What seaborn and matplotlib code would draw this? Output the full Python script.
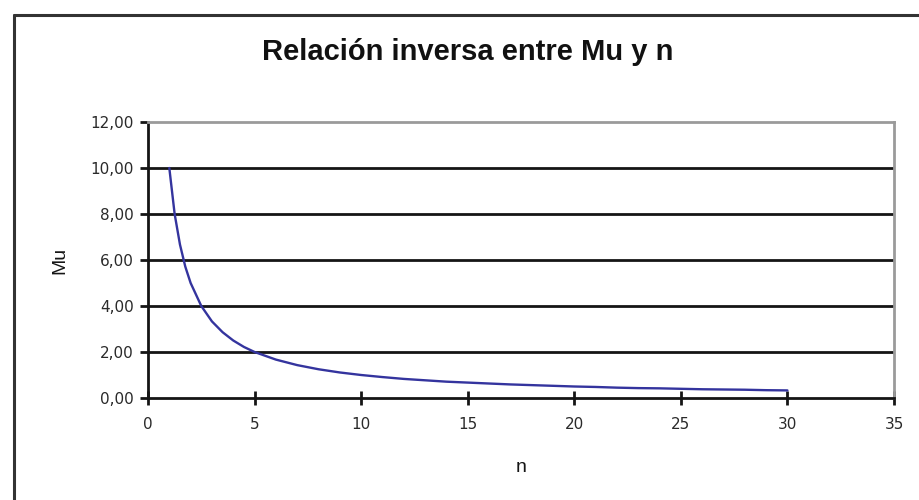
import matplotlib
matplotlib.use("Agg")
import matplotlib.pyplot as plt
from matplotlib.lines import Line2D
from matplotlib.ticker import FuncFormatter
import seaborn as sns
import pandas as pd

# n values and the corresponding Mu readings
n_vals = [1, 1.25, 1.5, 1.75, 2, 2.5, 3, 3.5, 4, 4.5, 5, 6, 7, 8, 9, 10,
          11, 12, 13, 14, 15, 16, 17, 18, 19, 20, 21, 22, 23, 24, 25,
          26, 27, 28, 29, 30]
mu_vals = [10.00, 8.00, 6.67, 5.71, 5.00, 4.00, 3.33, 2.86, 2.50, 2.22, 2.00,
           1.67, 1.43, 1.25, 1.11, 1.00, 0.91, 0.83, 0.77, 0.71, 0.67, 0.63,
           0.59, 0.56, 0.53, 0.50, 0.48, 0.45, 0.43, 0.42, 0.40, 0.38, 0.37,
           0.36, 0.34, 0.33]
x_ticks = [0, 5, 10, 15, 20, 25, 30, 35]
y_ticks = [0, 2, 4, 6, 8, 10, 12]

df = pd.DataFrame({"n": n_vals, "Mu": mu_vals})

sns.set_theme(style="white")
plt.rcParams["font.family"] = ["Liberation Sans", "DejaVu Sans"]

fig = plt.figure(figsize=(9.19, 5.0), dpi=100)
fig.patch.set_facecolor("white")
ax = fig.add_axes([148 / 919, 1 - 398 / 500, (894 - 148) / 919, (398 - 122) / 500])

sns.lineplot(data=df, x="n", y="Mu", ax=ax, color="#34349e", linewidth=1.7)

ax.set_xlim(0, 35)
ax.set_ylim(0, 12)
ax.set_xticks(x_ticks)
ax.set_yticks(y_ticks)
ax.yaxis.set_major_formatter(FuncFormatter(lambda v, p: f"{v:.2f}".replace(".", ",")))

# horizontal gridlines
for y in y_ticks[1:-1]:
    ax.axhline(y, color="#151515", linewidth=2.0, zorder=0)

for side in ["top", "right"]:
    ax.spines[side].set_color("#9a9a9a")
    ax.spines[side].set_linewidth(2.0)
for side in ["left", "bottom"]:
    ax.spines[side].set_color("#151515")
    ax.spines[side].set_linewidth(2.0)

ax.tick_params(axis="y", which="major", direction="out", length=6, width=2,
               color="#151515", labelsize=11, pad=4, left=True)
ax.tick_params(axis="x", which="major", direction="inout", length=10, width=2,
               color="#151515", labelsize=11, pad=9, bottom=True)
for lbl in ax.get_xticklabels() + ax.get_yticklabels():
    lbl.set_color("#2a2a2a")
    lbl.set_family(["DejaVu Sans"])

ax.set_xlabel("n", fontsize=14, labelpad=19, color="#151515")
ax.set_ylabel("Mu", fontsize=14, labelpad=16, color="#151515")

fig.text(468 / 919, 1 - 52 / 500, "Relación inversa entre Mu y n",
         ha="center", va="center", fontsize=21, fontweight="bold", color="#111111")

# chart-area border (left and top edges visible)
fig.add_artist(Line2D([13.5 / 919, 13.5 / 919], [0, 1 - 15 / 500],
                      transform=fig.transFigure, color="#333333", linewidth=2.2))
fig.add_artist(Line2D([13.5 / 919, 1], [1 - 15 / 500, 1 - 15 / 500],
                      transform=fig.transFigure, color="#333333", linewidth=2.2))

fig.savefig("out.png", dpi=100)
